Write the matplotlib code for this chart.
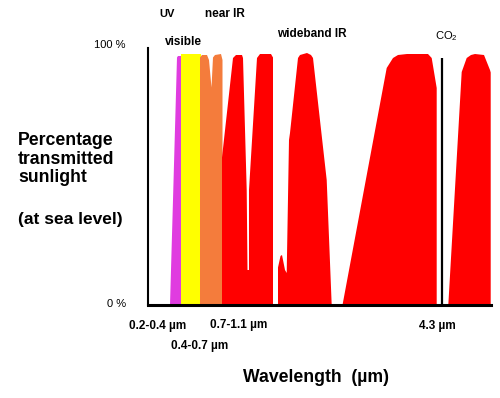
import matplotlib
matplotlib.use("Agg")
import matplotlib.pyplot as plt

plt.rcParams['font.family'] = ['Liberation Sans', 'DejaVu Sans']
plt.rcParams['mathtext.fontset'] = 'custom'
plt.rcParams['mathtext.rm'] = 'Liberation Sans'
plt.rcParams['mathtext.it'] = 'Liberation Sans:italic'

# schematic transmission bands: x = position along the wavelength axis, y = % transmitted
uv_x = [170, 173, 177, 178, 181, 181]
uv_y = [0, 42, 99, 99.6, 99.6, 0]

vis_x = [180.5, 180.5, 200.5, 200.5]
vis_y = [0, 100.6, 100.6, 0]

nir_x = [200, 200, 202, 207, 209, 211.5, 213, 215, 221, 222.5, 222.5]
nir_y = [0, 99, 100, 100, 98, 87, 99, 100, 100.4, 98, 0]

ir1_x = [222, 222, 233, 236, 242, 243, 246.7, 247.5, 249, 249, 257, 260, 271, 273, 273]
ir1_y = [0, 59, 98.8, 100, 100, 98.8, 46, 14, 14, 46, 98.8, 100.4, 100.4, 99, 0]

ir2_x = [278, 278, 280.5, 282, 285, 286.7, 289, 290, 298, 300, 307, 311, 313, 326.7, 331.7]
ir2_y = [0, 15, 19.6, 20, 14, 12.8, 66, 68.8, 98.8, 100, 100.8, 100, 98.8, 50, 0]

ir3_x = [342.5, 386.7, 393, 398, 407, 428, 431.7, 436.7, 436.7]
ir3_y = [0, 94.8, 98.8, 100, 100.4, 100.4, 98.8, 86.8, 0]

ir4_x = [448.3, 461.7, 466.7, 471, 475, 484, 490, 490.7, 490.7]
ir4_y = [0, 93.2, 98.8, 100, 100.4, 100, 94, 93, 0]

co2_x = 442
co2_top = 99

band_labels = ["0.2-0.4 µm", "0.4-0.7 µm", "0.7-1.1 µm", "4.3 µm"]
region_labels = ["UV", "near IR", "visible", "wideband IR"]

W, H = 500, 398
fig = plt.figure(figsize=(W / 100, H / 100), dpi=100)
ax = fig.add_axes([148 / W, 1 - 305 / H, (491 - 148) / W, (305 - 48) / H])
ax.set_xlim(148, 491)
ax.set_ylim(0, (305 - 48) / 2.5)

ax.fill(uv_x, uv_y, color='#e03ce0', lw=0)
ax.fill(vis_x, vis_y, color='#ffff00', lw=0)
ax.fill(nir_x, nir_y, color='#f47c3c', lw=0)
for bx, by in [(ir1_x, ir1_y), (ir2_x, ir2_y), (ir3_x, ir3_y), (ir4_x, ir4_y)]:
    ax.fill(bx, by, color='#ff0000', lw=0)
ax.plot([co2_x, co2_x], [0, co2_top], color='black', lw=1.6, solid_capstyle='butt')

for s in ['top', 'right']:
    ax.spines[s].set_visible(False)
ax.spines['left'].set_linewidth(1.5)
ax.spines['bottom'].set_linewidth(2.2)
ax.set_xticks([])
ax.set_yticks([])
ax.patch.set_alpha(0)


def t(x, y, s, **kw):
    kw.setdefault('ha', 'center')
    kw.setdefault('va', 'center')
    fig.text(x / W, 1 - y / H, s, **kw)


t(167, 14, region_labels[0], fontsize=8, fontweight='bold')
t(225, 14, region_labels[1], fontsize=8.5, fontweight='bold')
t(183, 42, region_labels[2], fontsize=8.5, fontweight='bold')
t(312, 34, region_labels[3], fontsize=8.5, fontweight='bold')
t(446, 36, "CO$_2$", fontsize=8)

t(125, 45, "100 %", ha='right', fontsize=8,
  family=['Liberation Sans Narrow', 'Liberation Sans'])
t(126, 304, "0 %", ha='right', fontsize=8,
  family=['Liberation Sans Narrow', 'Liberation Sans'])

t(18, 159, "Percentage\ntransmitted\nsunlight", ha='left', fontsize=12.7,
  fontweight='bold', linespacing=1.15)
t(18, 220, "(at sea level)", ha='left', fontsize=12.5, fontweight='bold')

t(158, 326, band_labels[0], fontsize=8.5, fontweight='bold')
t(200, 346, band_labels[1], fontsize=8.5, fontweight='bold')
t(238.5, 325, band_labels[2], fontsize=8.5, fontweight='bold')
t(437, 326, band_labels[3], fontsize=8.5, fontweight='bold')

t(243, 378, "Wavelength  (µm)", ha='left', fontsize=12.7, fontweight='bold')

fig.savefig("out.png", dpi=100)
